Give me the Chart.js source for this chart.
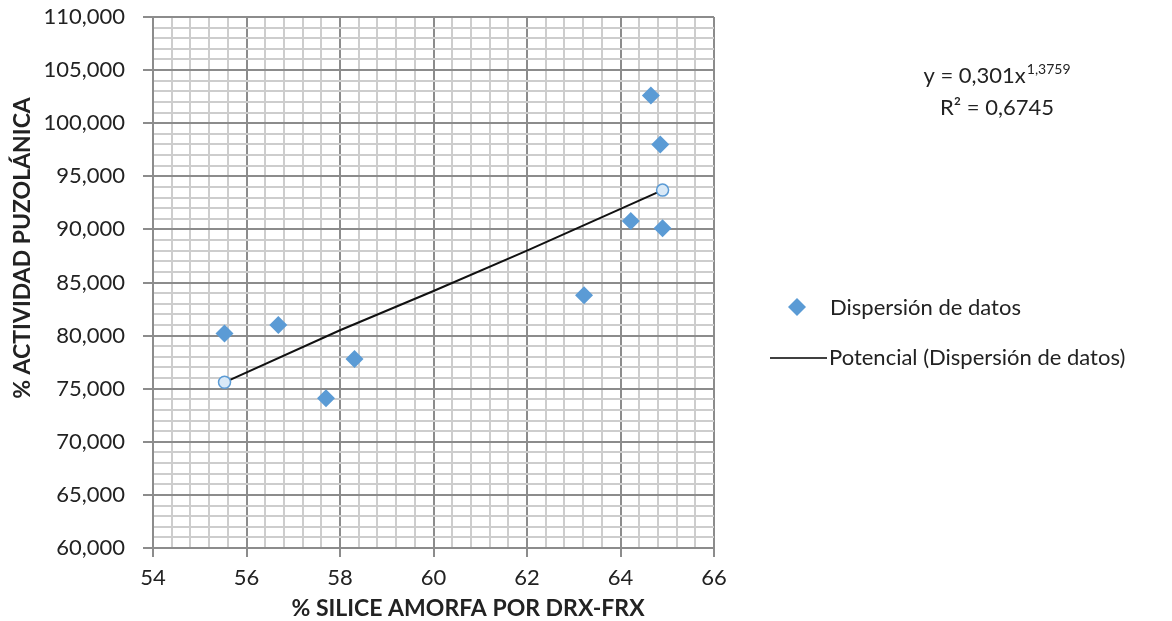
<!DOCTYPE html>
<html>
<head>
<meta charset="utf-8">
<script src="https://cdn.jsdelivr.net/npm/chart.js@4.4.0/dist/chart.umd.min.js"></script>
<style>
  html, body { margin: 0; padding: 0; background: #fff; }
  #wrap { width: 1172px; height: 621px; }
</style>
</head>
<body>
<div id="wrap"><canvas id="chart" width="1172" height="621"></canvas></div>
<script>
// data
const silice = [55.53, 56.68, 57.70, 58.31, 63.22, 64.22, 64.65, 64.85, 64.90];
const actividad = [80.2, 81.0, 74.1, 77.8, 83.8, 90.8, 102.6, 98.0, 90.1];
const trendX = [55.53, 58, 60, 62, 64.90];
const trendY = [75.6, 80.5, 84.2, 88.0, 93.7];
const xTicks = [54, 56, 58, 60, 62, 64, 66];
const yTicks = [60, 65, 70, 75, 80, 85, 90, 95, 100, 105, 110];
const seriesNames = ['Dispersión de datos', 'Potencial (Dispersión de datos)'];
const xTitle = '% SILICE AMORFA POR DRX-FRX';
const yTitle = '% ACTIVIDAD PUZOLÁNICA';
const equation = { base: 'y = 0,301x', exp: '1,3759', r2: 'R² = 0,6745' };

const FONT = 'Lato';
const BLUE = '#5B9BD5';
const MAJOR = '#8c8c8c';
const MINOR = '#cdcdcd';

// 5 subdivisions between the major ticks
function withMinor(major) {
    const out = [];
    for (let i = 0; i < major.length - 1; i++) {
        for (let k = 0; k < 5; k++) {
            out.push(Math.round((major[i] + (major[i + 1] - major[i]) * k / 5) * 1000) / 1000);
        }
    }
    out.push(major[major.length - 1]);
    return out;
}
const isMajor = (list, v) => list.some(m => Math.abs(m - v) < 1e-6);

const extras = {
    id: 'extras',
    afterDraw(chart) {
        const ctx = chart.ctx;
        ctx.save();
        ctx.fillStyle = '#222';

        // axis titles
        ctx.font = `bold 23px ${FONT}`;
        ctx.textAlign = 'center';
        ctx.textBaseline = 'middle';
        ctx.fillText(xTitle, 468, 609);
        ctx.save();
        ctx.translate(23, 248);
        ctx.rotate(-Math.PI / 2);
        ctx.fillText(yTitle, 0, 0);
        ctx.restore();

        // equation
        ctx.font = `22px ${FONT}`;
        ctx.textBaseline = 'alphabetic';
        const wBase = ctx.measureText(equation.base).width;
        ctx.font = `14px ${FONT}`;
        const wExp = ctx.measureText(equation.exp).width;
        const x0 = 997 - (wBase + wExp + 1) / 2;
        ctx.textAlign = 'left';
        ctx.font = `22px ${FONT}`;
        ctx.fillText(equation.base, x0, 83);
        ctx.font = `14px ${FONT}`;
        ctx.fillText(equation.exp, x0 + wBase + 1, 74);
        ctx.font = `22px ${FONT}`;
        ctx.textAlign = 'center';
        ctx.fillText(equation.r2, 997, 115);

        // legend
        ctx.textAlign = 'left';
        ctx.textBaseline = 'middle';
        ctx.fillStyle = BLUE;
        ctx.beginPath();
        ctx.moveTo(797, 298);
        ctx.lineTo(806, 307);
        ctx.lineTo(797, 316);
        ctx.lineTo(788, 307);
        ctx.closePath();
        ctx.fill();
        ctx.strokeStyle = '#000';
        ctx.lineWidth = 1.5;
        ctx.beginPath();
        ctx.moveTo(770, 358);
        ctx.lineTo(827, 358);
        ctx.stroke();
        ctx.fillStyle = '#222';
        ctx.fillText(seriesNames[0], 830, 308);
        ctx.fillText(seriesNames[1], 829, 358);
        ctx.restore();
    }
};

const xAll = withMinor(xTicks);
const yAll = withMinor(yTicks);

new Chart(document.getElementById('chart'), {
    type: 'scatter',
    data: {
        datasets: [
            {
                label: seriesNames[1],
                type: 'line',
                data: trendX.map((x, i) => ({ x, y: trendY[i] })),
                borderColor: '#111',
                borderWidth: 2,
                pointRadius: trendX.map((x, i) => (i === 0 || i === trendX.length - 1) ? 6 : 0),
                pointBackgroundColor: '#d9e9f7',
                pointBorderColor: BLUE,
                pointBorderWidth: 1.5,
                tension: 0,
                fill: false
            },
            {
                label: seriesNames[0],
                data: silice.map((x, i) => ({ x, y: actividad[i] })),
                pointStyle: 'rectRot',
                pointRadius: 9,
                backgroundColor: BLUE,
                borderColor: BLUE,
                borderWidth: 0
            }
        ]
    },
    options: {
        responsive: false,
        animation: false,
        events: [],
        layout: { padding: { top: 17, right: 458, left: 0, bottom: 0 } },
        plugins: {
            legend: { display: false },
            tooltip: { enabled: false }
        },
        scales: {
            x: {
                type: 'linear',
                min: 54,
                max: 66,
                afterBuildTicks: axis => { axis.ticks = xAll.map(v => ({ value: v })); },
                afterFit: scale => {
                    scale.height = 73;
                    scale.paddingLeft = 0;
                    scale.paddingRight = 0;
                },
                ticks: {
                    autoSkip: false,
                    maxRotation: 0,
                    padding: 8,
                    color: '#222',
                    font: { family: FONT, size: 22 },
                    callback: v => isMajor(xTicks, v) ? String(v) : ''
                },
                grid: {
                    lineWidth: 2,
                    tickLength: 9,
                    tickWidth: 2,
                    color: c => isMajor(xTicks, c.tick.value) ? MAJOR : MINOR,
                    tickColor: c => isMajor(xTicks, c.tick.value) ? MAJOR : 'rgba(0,0,0,0)'
                },
                border: { color: MAJOR, width: 2 }
            },
            y: {
                type: 'linear',
                min: 60,
                max: 110,
                afterBuildTicks: axis => { axis.ticks = yAll.map(v => ({ value: v })); },
                afterFit: scale => {
                    scale.width = 153;
                    scale.paddingTop = 0;
                    scale.paddingBottom = 0;
                },
                ticks: {
                    autoSkip: false,
                    padding: 18,
                    color: '#222',
                    font: { family: FONT, size: 22 },
                    callback: v => isMajor(yTicks, v) ? v.toFixed(3).replace('.', ',') : ''
                },
                grid: {
                    lineWidth: 2,
                    tickLength: 10,
                    tickWidth: 2,
                    color: c => isMajor(yTicks, c.tick.value) ? MAJOR : MINOR,
                    tickColor: c => isMajor(yTicks, c.tick.value) ? MAJOR : 'rgba(0,0,0,0)'
                },
                border: { color: MAJOR, width: 2 }
            }
        }
    },
    plugins: [extras]
});
</script>
</body>
</html>
